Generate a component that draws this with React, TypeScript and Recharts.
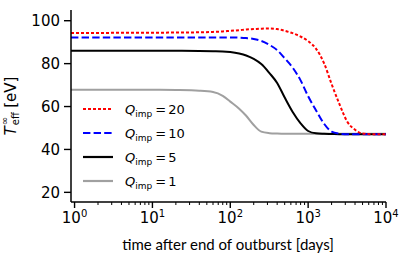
import React from "react";
import { LineChart, Line, XAxis, YAxis } from "recharts";

// time after end of outburst [days]
const times = [0.9, 2, 5, 10, 20, 40, 60, 80, 100, 130, 160, 200, 250, 320, 400, 500, 630, 800, 1000, 1260, 1600, 2000, 2500, 3200, 4000, 5000, 7000, 10000];

// T_eff^inf [eV] for each Q_imp
const q20 = [94.3, 94.3, 94.4, 94.4, 94.5, 94.6, 94.8, 95.0, 95.3, 95.6, 95.9, 96.1, 96.3, 96.4, 96.1, 95.3, 94.2, 92.6, 90.5, 87.0, 80.2, 70.5, 61.5, 52.8, 49.2, 47.4, 47.1, 47.1];
const q10 = [92.2, 92.2, 92.2, 92.2, 92.2, 92.2, 92.2, 92.2, 92.2, 92.1, 91.9, 91.5, 90.6, 88.7, 86.3, 82.5, 78.2, 72.2, 64.8, 58.3, 52.0, 48.3, 47.4, 47.1, 47.1, 47.1, 47.1, 47.1];
const q5 = [86.0, 86.0, 86.0, 86.0, 86.0, 85.9, 85.8, 85.7, 85.4, 84.7, 83.8, 82.2, 79.8, 75.5, 71.0, 64.2, 57.6, 52.2, 48.6, 47.5, 47.3, 47.2, 47.1, 47.1, 47.1, 47.1, 47.1, 47.1];
const q1 = [67.8, 67.8, 67.8, 67.8, 67.7, 67.4, 66.8, 65.0, 62.3, 59.0, 55.7, 51.4, 48.3, 47.6, 47.4, 47.3, 47.3, 47.3, 47.3, 47.3, 47.3, 47.3, 47.3, 47.3, 47.3, 47.3, 47.3, 47.3];

const yTicks = [20, 40, 60, 80, 100];
const xTicks = [1, 2, 3, 4, 5, 6, 7, 8, 9, 10, 20, 30, 40, 50, 60, 70, 80, 90, 100, 200, 300, 400, 500, 600, 700, 800, 900, 1000, 2000, 3000, 4000, 5000, 6000, 7000, 8000, 9000, 10000];

const series = [
  { key: "q20", label: "20", color: "#ff0000", dash: "3 2" },
  { key: "q10", label: "10", color: "#0000ff", dash: "7.4 3.2" },
  { key: "q5", label: "5", color: "#000000", dash: undefined },
  { key: "q1", label: "1", color: "#a0a0a0", dash: undefined },
];

const data = times.map((t, i) => ({ t, q20: q20[i], q10: q10[i], q5: q5[i], q1: q1[i] }));

const FONT = "DejaVu Sans";

const LogTick = (props: any) => {
  const { x, y, payload } = props;
  const lg = Math.log10(payload.value);
  const exp = Math.round(lg);
  const major = Math.abs(lg - exp) < 1e-6;
  return (
    <g>
      <line x1={x} x2={x} y1={y} y2={y + (major ? 6 : 3)} stroke="#000" strokeWidth={major ? 1.4 : 1} />
      {major && (
        <text x={x} y={y + 21} textAnchor="middle" fontSize={15} fontFamily={FONT} fill="#000">
          10<tspan dy={-6} fontSize={10}>{exp}</tspan>
        </text>
      )}
    </g>
  );
};

const YLabel = () => (
  <text transform="rotate(-90)" x={-106} y={16} textAnchor="middle" fontSize={15} fontFamily={FONT} fill="#000">
    <tspan fontStyle="italic">T</tspan>
    <tspan fontSize={10} dx={1} dy={3}>eff</tspan>
    <tspan fontSize={10} dx={-13} dy={-11}>∞</tspan>
    <tspan dx={9} dy={8}>[eV]</tspan>
  </text>
);

const XLabel = () => (
  <text x={228} y={250} textAnchor="middle" fontSize={15} fontFamily="Lato" fill="#000">
    time after end of outburst [days]
  </text>
);

const LegendBox = () => (
  <div style={{ position: "absolute", left: 83, top: 97, fontFamily: FONT, fontSize: 13, color: "#000" }}>
    {series.map((s) => (
      <div key={s.key} style={{ display: "flex", alignItems: "center", height: 24 }}>
        <svg width={30} height={4} style={{ marginRight: 12 }}>
          <line x1={0} x2={30} y1={2} y2={2} stroke={s.color} strokeWidth={2.2} strokeDasharray={s.dash} />
        </svg>
        <span>
          <i>Q</i>
          <span style={{ fontSize: 9, position: "relative", top: 3 }}>imp</span>
          <span style={{ marginLeft: 3 }}>=</span>
          <span style={{ marginLeft: 2 }}>{s.label}</span>
        </span>
      </div>
    ))}
  </div>
);

export default function App() {
  return (
    <div style={{ position: "absolute", left: 0, top: 0, width: 402, height: 260, background: "#fff" }}>
      <LineChart width={402} height={260} data={data} margin={{ top: 10, right: 16, bottom: 0, left: 0 }}>
        <XAxis
          dataKey="t"
          type="number"
          scale="log"
          domain={[0.9, 10000]}
          allowDataOverflow
          ticks={xTicks}
          interval={0}
          tick={<LogTick />}
          tickLine={false}
          tickSize={0}
          tickMargin={0}
          height={58}
          axisLine={{ stroke: "#000", strokeWidth: 1.5 }}
          label={<XLabel />}
        />
        <XAxis
          xAxisId="top"
          dataKey="t"
          type="number"
          scale="log"
          domain={[0.9, 10000]}
          allowDataOverflow
          orientation="top"
          height={0}
          tick={false}
          tickLine={false}
          axisLine={{ stroke: "#000", strokeWidth: 1.5 }}
        />
        <YAxis
          type="number"
          domain={[15.5, 105]}
          allowDataOverflow
          ticks={yTicks}
          interval={0}
          width={71}
          tickSize={7}
          tickMargin={4}
          tick={{ fontSize: 15, fontFamily: FONT, fill: "#000" }}
          tickLine={{ stroke: "#000", strokeWidth: 1.4 }}
          axisLine={{ stroke: "#000", strokeWidth: 1.5 }}
          label={<YLabel />}
        />
        <YAxis
          yAxisId="right"
          orientation="right"
          type="number"
          domain={[15.5, 105]}
          width={0}
          tick={false}
          tickLine={false}
          axisLine={{ stroke: "#000", strokeWidth: 1.5 }}
        />
        {[...series].reverse().map((s) => (
          <Line
            key={s.key}
            dataKey={s.key}
            type="monotone"
            stroke={s.color}
            strokeWidth={2}
            strokeDasharray={s.dash}
            dot={false}
            isAnimationActive={false}
          />
        ))}
      </LineChart>
      <LegendBox />
    </div>
  );
}
